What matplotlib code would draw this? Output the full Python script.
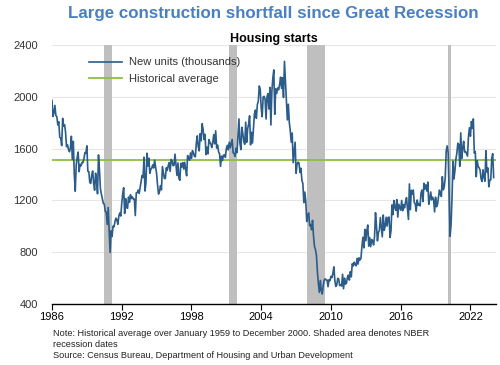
import numpy as np
import matplotlib
matplotlib.use("Agg")
import matplotlib.pyplot as plt

plt.rcParams['font.family'] = ['Liberation Sans', 'DejaVu Sans']

# monthly housing starts, thousands of units (SAAR), Jan 1986 - Jan 2024
starts = {
    1986: [1972, 1848, 1876, 1933, 1854, 1847, 1782, 1807, 1687, 1681, 1623, 1833],
    1987: [1774, 1784, 1726, 1614, 1628, 1594, 1575, 1605, 1695, 1515, 1656, 1400],
    1988: [1271, 1473, 1532, 1573, 1421, 1478, 1467, 1493, 1492, 1522, 1569, 1563],
    1989: [1621, 1425, 1422, 1339, 1331, 1397, 1427, 1332, 1279, 1410, 1351, 1251],
    1990: [1551, 1437, 1289, 1248, 1212, 1177, 1171, 1115, 1110, 1014, 1145, 969],
    1991: [798, 965, 921, 1001, 996, 1036, 1063, 1049, 1015, 1079, 1103, 1079],
    1992: [1176, 1250, 1297, 1099, 1214, 1145, 1139, 1226, 1186, 1244, 1214, 1227],
    1993: [1210, 1210, 1083, 1258, 1260, 1280, 1254, 1300, 1343, 1392, 1376, 1533],
    1994: [1272, 1337, 1564, 1465, 1526, 1409, 1439, 1450, 1474, 1450, 1511, 1455],
    1995: [1407, 1316, 1249, 1267, 1314, 1281, 1461, 1416, 1369, 1369, 1452, 1431],
    1996: [1467, 1491, 1424, 1516, 1504, 1467, 1472, 1557, 1475, 1392, 1489, 1370],
    1997: [1355, 1486, 1457, 1492, 1442, 1494, 1437, 1390, 1546, 1520, 1510, 1566],
    1998: [1525, 1584, 1567, 1540, 1536, 1641, 1698, 1614, 1582, 1715, 1660, 1792],
    1999: [1748, 1670, 1710, 1553, 1611, 1559, 1669, 1648, 1635, 1608, 1648, 1708],
    2000: [1636, 1737, 1604, 1626, 1575, 1559, 1463, 1541, 1507, 1549, 1551, 1532],
    2001: [1600, 1625, 1590, 1649, 1605, 1636, 1670, 1567, 1562, 1540, 1602, 1568],
    2002: [1698, 1829, 1642, 1592, 1764, 1717, 1655, 1633, 1804, 1648, 1753, 1788],
    2003: [1853, 1629, 1726, 1643, 1751, 1867, 1897, 1833, 1939, 1967, 2083, 2057],
    2004: [1911, 1846, 1998, 2003, 1981, 1828, 2002, 2024, 1905, 2072, 1782, 2042],
    2005: [2144, 2207, 1864, 2061, 2025, 2068, 2054, 2095, 2151, 2065, 2147, 1994],
    2006: [2273, 2119, 1969, 1821, 1942, 1802, 1737, 1650, 1720, 1491, 1570, 1649],
    2007: [1409, 1480, 1495, 1490, 1415, 1448, 1354, 1330, 1183, 1264, 1197, 1037],
    2008: [1084, 1103, 1005, 1013, 973, 1046, 923, 844, 820, 777, 652, 560],
    2009: [490, 582, 505, 478, 540, 585, 594, 586, 585, 534, 588, 581],
    2010: [614, 604, 636, 687, 583, 536, 546, 599, 594, 543, 545, 539],
    2011: [630, 518, 600, 554, 561, 608, 623, 585, 650, 610, 711, 694],
    2012: [723, 704, 695, 753, 708, 757, 740, 754, 847, 915, 833, 976],
    2013: [888, 962, 1010, 847, 914, 843, 898, 889, 856, 920, 1105, 1003],
    2014: [888, 951, 970, 1067, 997, 919, 1087, 969, 1000, 1070, 1002, 1068],
    2015: [1071, 914, 966, 1165, 1090, 1199, 1145, 1123, 1206, 1071, 1170, 1147],
    2016: [1125, 1199, 1120, 1167, 1142, 1187, 1221, 1136, 1053, 1327, 1128, 1278],
    2017: [1248, 1280, 1183, 1175, 1117, 1203, 1162, 1175, 1157, 1258, 1280, 1190],
    2018: [1332, 1288, 1320, 1272, 1341, 1170, 1210, 1265, 1204, 1225, 1204, 1111],
    2019: [1225, 1151, 1168, 1222, 1279, 1247, 1230, 1383, 1281, 1306, 1377, 1582],
    2020: [1621, 1568, 1258, 923, 1014, 1223, 1503, 1365, 1430, 1519, 1566, 1641],
    2021: [1630, 1463, 1721, 1523, 1600, 1656, 1573, 1577, 1559, 1542, 1694, 1761],
    2022: [1695, 1809, 1758, 1829, 1565, 1577, 1383, 1506, 1463, 1451, 1433, 1366],
    2023: [1346, 1436, 1380, 1348, 1583, 1418, 1451, 1305, 1356, 1359, 1525, 1560],
    2024: [1376],
}
hist_avg = 1510

# NBER recessions (decimal years)
recessions = [(1990.5, 1991.2), (2001.2, 2001.9), (2007.9, 2009.5), (2020.1, 2020.3)]

xticks = [1986, 1992, 1998, 2004, 2010, 2016, 2022]
yticks = [400, 800, 1200, 1600, 2000, 2400]

t = []
v = []
for yr, vals in starts.items():
    for m, val in enumerate(vals):
        t.append(yr + m / 12.0)
        v.append(val)
t = np.array(t)
v = np.array(v)

fig = plt.figure(figsize=(5, 3.65), dpi=100)
ax = fig.add_axes([0.104, 0.167, 0.888, 0.710])

for a, b in recessions:
    ax.axvspan(a, b, color='#bfbfbf', lw=0, zorder=1)

ax.plot(t, v, color='#2b5c8a', lw=1.2, zorder=3, label='New units (thousands)')
ax.axhline(hist_avg, color='#8cbf3f', lw=1.3, zorder=2, label='Historical average')

ax.set_xlim(1986, 2024.2)
ax.set_ylim(400, 2400)
ax.set_xticks(xticks)
ax.set_yticks(yticks)
ax.grid(axis='y', color='#e6e6e6', lw=0.8, zorder=0)
ax.set_axisbelow(True)
for s in ['top', 'right', 'left']:
    ax.spines[s].set_visible(False)
ax.spines['bottom'].set_color('black')
ax.spines['bottom'].set_linewidth(1.0)
ax.tick_params(axis='y', length=0, labelsize=8, pad=10, colors='#333333')
ax.tick_params(axis='x', length=4, direction='out', labelsize=8, colors='black', pad=2)

leg = ax.legend(loc='upper left', bbox_to_anchor=(0.06, 0.99), frameon=False,
                fontsize=8, handlelength=3.0, handletextpad=0.6, labelspacing=0.6)
for txt in leg.get_texts():
    txt.set_color('#333333')

fig.text(0.546, 0.964, 'Large construction shortfall since Great Recession',
         ha='center', va='center', fontsize=12.2, fontweight='bold', color='#4a7fc0')
ax.set_title('Housing starts', fontsize=9, fontweight='bold', pad=2)

fig.text(0.106, 0.086, 'Note: Historical average over January 1959 to December 2000. Shaded area denotes NBER',
         fontsize=6.6, va='center', color='#222222')
fig.text(0.106, 0.056, 'recession dates', fontsize=6.6, va='center', color='#222222')
fig.text(0.106, 0.026, 'Source: Census Bureau, Department of Housing and Urban Development',
         fontsize=6.6, va='center', color='#222222')

plt.savefig('out.png', dpi=100)
